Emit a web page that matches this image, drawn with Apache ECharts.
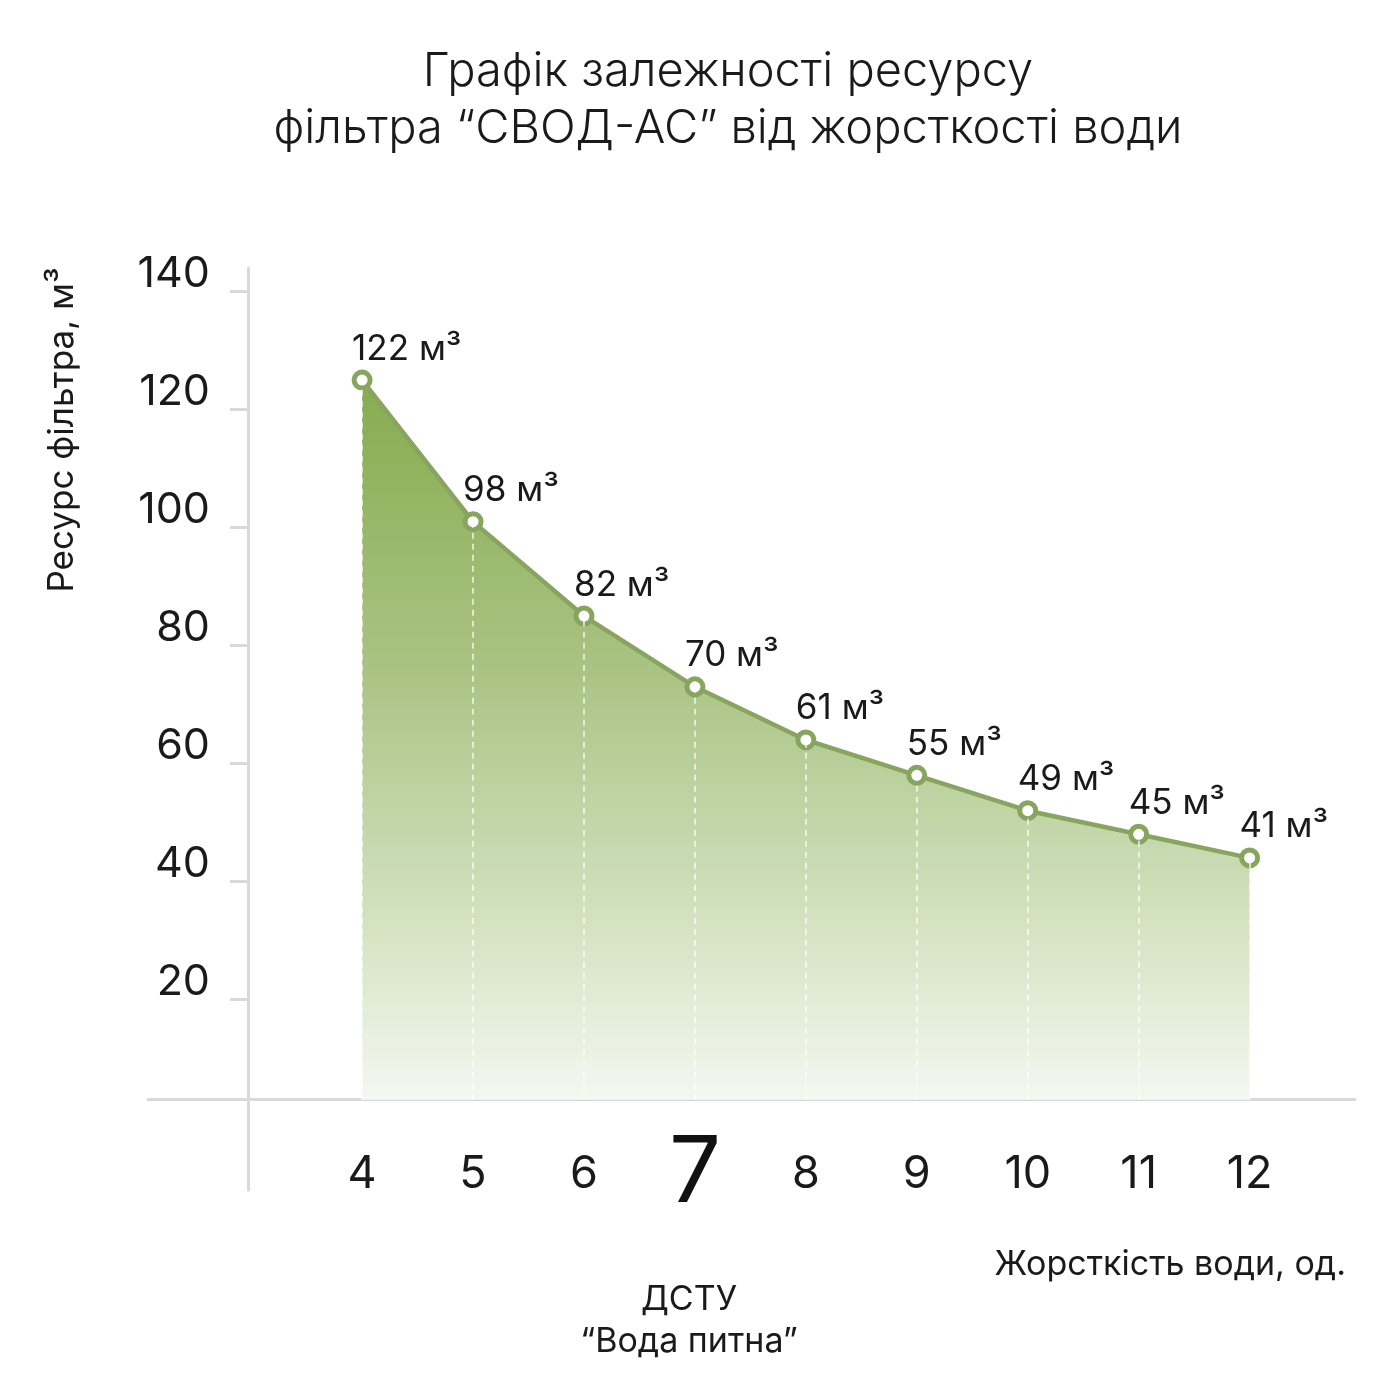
<!DOCTYPE html>
<html>
<head>
<meta charset="utf-8">
<script src="https://cdn.jsdelivr.net/npm/echarts@6/dist/echarts.min.js"></script>
<style>
  html, body { margin: 0; padding: 0; background: #ffffff; }
  #chart { width: 1400px; height: 1400px; }
</style>
</head>
<body>
<div id="chart"></div>
<script>
// ---- data ----
const hardness = [4, 5, 6, 7, 8, 9, 10, 11, 12];
const resource = [122, 98, 82, 70, 61, 55, 49, 45, 41];
const unit = 'м³';
const yTickValues = [20, 40, 60, 80, 100, 120, 140];
const xTickValues = [4, 5, 6, 7, 8, 9, 10, 11, 12];
const highlightX = 7;
const titleText = 'Графік залежності ресурсу\nфільтра “СВОД-АС” від жорсткості води';
const yAxisName = 'Ресурс фільтра, м³';
const xAxisName = 'Жорсткість води, од.';
const standardNote = 'ДСТУ\n“Вода питна”';

// ---- style constants ----
const FONT = 'Inter, Roboto, "Noto Sans", sans-serif';
const W = 400;
const TEXT = '#1a1a1a';
const AXIS = '#d9d9d9';
const GREEN = '#87a55e';
const TICK_SHIFT = 2.9; // ticks drawn slightly below their labels, as in the design

const points = hardness.map((x, i) => [x, resource[i]]);
const dropLines = points.map(p => [
  { coord: [p[0], 0] },
  { coord: [p[0], p[1]] }
]);

const chart = echarts.init(document.getElementById('chart'), null, { renderer: 'canvas' });

const option = {
  backgroundColor: '#ffffff',
  animation: false,
  title: [
    {
      text: titleText,
      left: 723,
      top: 38,
      textAlign: 'center',
      textStyle: { fontFamily: FONT, fontSize: 47, fontWeight: 350, color: TEXT, lineHeight: 57 }
    },
    {
      text: xAxisName,
      right: 49,
      top: 1243,
      textStyle: { fontFamily: FONT, fontSize: 34, fontWeight: W, color: TEXT }
    },
    {
      text: standardNote,
      left: 684,
      top: 1274,
      textAlign: 'center',
      textStyle: { fontFamily: FONT, fontSize: 34, fontWeight: W, color: TEXT, lineHeight: 42, align: 'center' }
    }
  ],
  graphic: [
    {
      type: 'text',
      x: 62,
      y: 430,
      rotation: Math.PI / 2,
      style: {
        text: yAxisName,
        fontFamily: FONT,
        fontSize: 35,
        fontWeight: W,
        fill: TEXT,
        align: 'center',
        verticalAlign: 'middle'
      }
    }
  ],
  grid: {
    left: 148,
    right: 45,
    top: 268,
    bottom: 210,
    containLabel: false
  },
  xAxis: {
    type: 'value',
    min: 2.07,
    max: 12.95,
    axisLine: { show: true, onZero: true, lineStyle: { color: AXIS, width: 3 } },
    axisTick: { show: false },
    splitLine: { show: false },
    axisLabel: {
      customValues: xTickValues,
      margin: -16,
      verticalAlign: 'middle',
      fontFamily: FONT,
      fontSize: 45,
      fontWeight: W,
      color: TEXT,
      formatter: v => (v === highlightX ? '{big|' + v + '}' : '{n|' + v + '}'),
      rich: {
        n: { fontFamily: FONT, fontSize: 45, fontWeight: W, color: TEXT },
        big: { fontFamily: FONT, fontSize: 92, fontWeight: 400, color: '#111111' }
      }
    }
  },
  yAxis: {
    type: 'value',
    min: -15.3,
    max: 141,
    offset: -100,
    axisLine: { show: true, onZero: false, lineStyle: { color: AXIS, width: 3 } },
    axisTick: {
      show: true,
      length: 18,
      customValues: yTickValues.map(v => v - TICK_SHIFT),
      lineStyle: { color: AXIS, width: 3 }
    },
    splitLine: { show: false },
    axisLabel: {
      customValues: yTickValues,
      margin: 38,
      fontFamily: FONT,
      fontSize: 43,
      fontWeight: W,
      color: TEXT
    }
  },
  series: [
    {
      type: 'line',
      data: points,
      smooth: false,
      symbol: 'circle',
      symbolSize: 16,
      showAllSymbol: true,
      lineStyle: { color: GREEN, width: 4.5 },
      itemStyle: { color: '#ffffff', borderColor: GREEN, borderWidth: 5 },
      areaStyle: {
        opacity: 1,
        color: new echarts.graphic.LinearGradient(0, 0, 0, 1, [
          { offset: 0, color: '#88ab4f' },
          { offset: 0.4, color: '#a9c383' },
          { offset: 0.75, color: '#d3e2c0' },
          { offset: 1, color: '#f4f8f0' }
        ])
      },
      label: {
        show: true,
        position: 'top',
        align: 'left',
        distance: 3,
        offset: [-10, 0],
        fontFamily: FONT,
        fontSize: 35,
        fontWeight: W,
        color: TEXT,
        formatter: p => p.value[1] + ' ' + unit
      },
      markLine: {
        silent: true,
        symbol: ['none', 'none'],
        label: { show: false },
        lineStyle: { color: 'rgba(255,255,255,0.85)', type: [6, 5], width: 1.5 },
        data: dropLines
      },
      z: 3
    }
  ]
};

chart.setOption(option);
</script>
</body>
</html>
